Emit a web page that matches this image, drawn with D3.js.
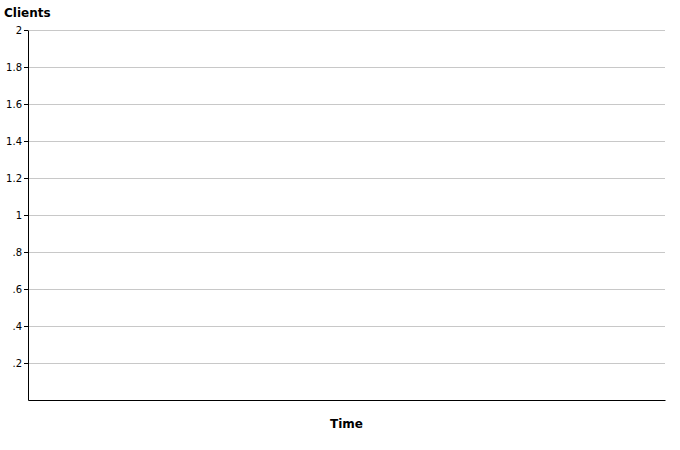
<!DOCTYPE html>
<html><head><meta charset="utf-8">
<script src="https://cdn.jsdelivr.net/npm/d3@7"></script>
<style>body{margin:0;background:#fff;font-family:"DejaVu Sans",Verdana,sans-serif;}</style>
</head><body><svg id="c" width="680" height="450"></svg>
<script>
const times = [];
const clients = [];
const yTicks = [0.2, 0.4, 0.6, 0.8, 1, 1.2, 1.4, 1.6, 1.8, 2];
const yTitle = "Clients";
const xTitle = "Time";

const svg = d3.select("#c");
const m = {l: 28, r: 15, t: 30, b: 50};
const W = 680, H = 450;
const x = d3.scaleLinear().domain([0, 1]).range([m.l, W - m.r]);
const y = d3.scaleLinear().domain([0, 2]).range([H - m.b, m.t]);

const fmt = v => { let s = d3.format("~g")(v); return s.startsWith("0.") ? s.slice(1) : s; };

// gridlines
svg.append("g").selectAll("line").data(yTicks).join("line")
  .attr("x1", m.l).attr("x2", W - m.r)
  .attr("y1", d => Math.round(y(d)) + 0.5).attr("y2", d => Math.round(y(d)) + 0.5)
  .attr("stroke", "#c8c8c8").attr("stroke-width", 1);

const ya = svg.append("g").attr("transform", `translate(${m.l},0)`)
  .call(d3.axisLeft(y).tickValues(yTicks).tickFormat(fmt).tickSize(4).tickSizeOuter(0));
ya.select(".domain").attr("stroke", "#000");
ya.selectAll("text").attr("font-size", 10).attr("font-family", "DejaVu Sans, Verdana, sans-serif").attr("fill", "#000").attr("x", -6);
ya.selectAll(".tick line").attr("stroke", "#000");

const xa = svg.append("g").attr("transform", `translate(0,${H - m.b})`)
  .call(d3.axisBottom(x).tickValues([]).tickSizeOuter(0));
xa.select(".domain").attr("stroke", "#000");

// series (empty)
svg.append("path").datum(clients.map((c, i) => [times[i], c]))
  .attr("fill", "none").attr("stroke", "steelblue")
  .attr("d", d3.line().x(d => x(d[0])).y(d => y(d[1])));

svg.append("text").attr("x", 4).attr("y", 17).text(yTitle)
  .attr("font-weight", "bold").attr("font-size", 12).attr("fill", "#000");
svg.append("text").attr("x", (m.l + W - m.r) / 2).attr("y", 428).attr("text-anchor", "middle").text(xTitle)
  .attr("font-weight", "bold").attr("font-size", 12).attr("fill", "#000");
</script></body></html>
